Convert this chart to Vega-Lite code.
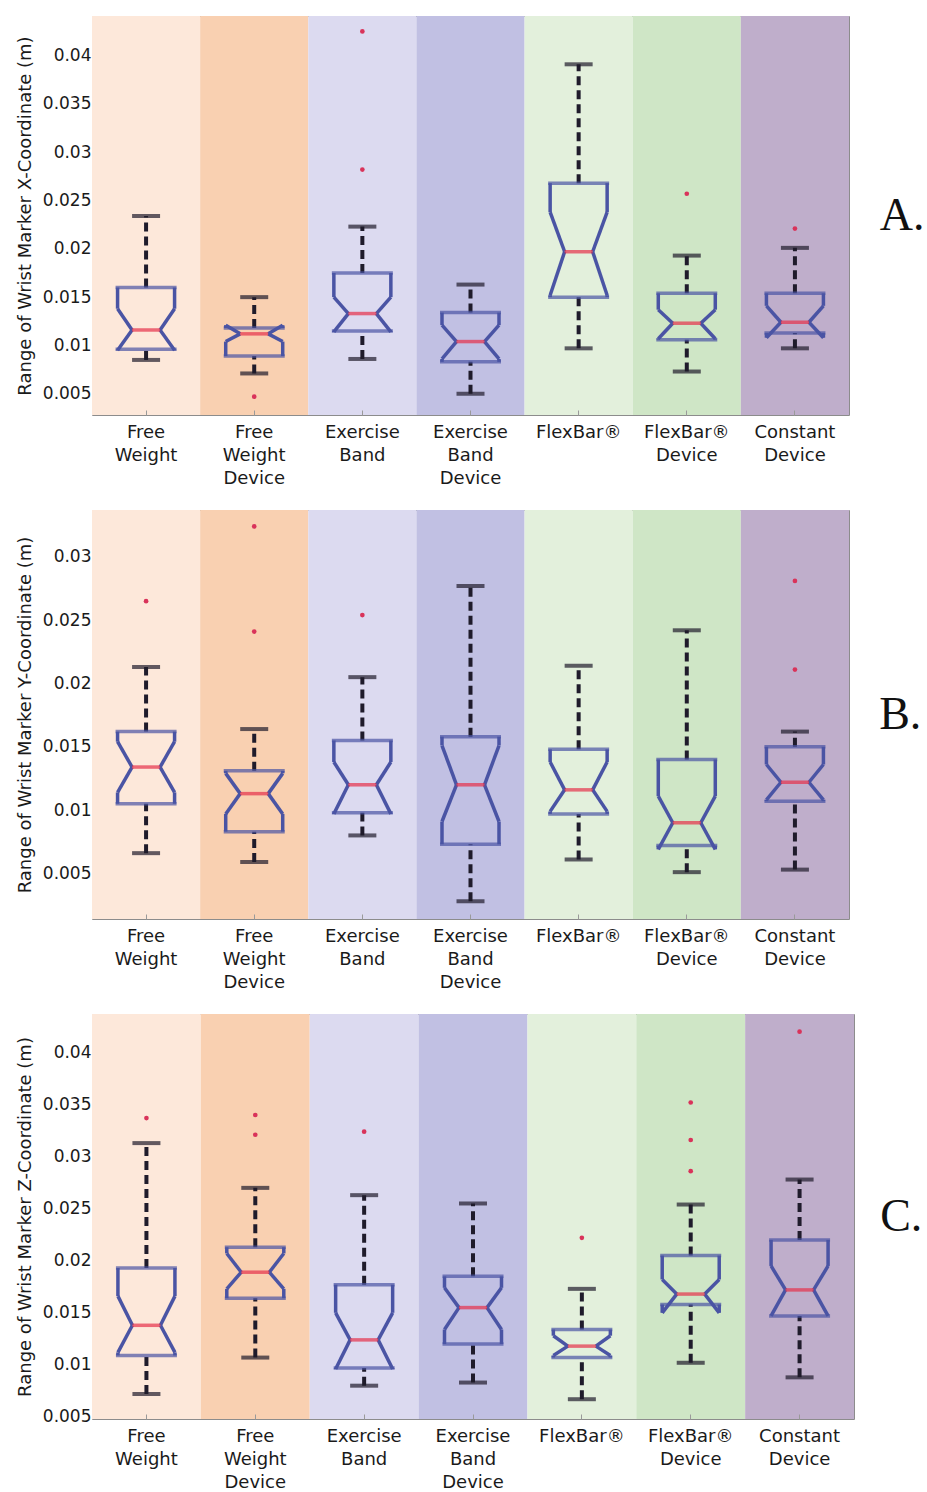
{
  "$schema": "https://vega.github.io/schema/vega-lite/v6.json",
  "padding": {"left": 15, "top": 15, "right": 0, "bottom": 0},
  "background": "white",
  "spacing": 21,
  "config": {
    "font": "DejaVu Sans",
    "view": {"stroke": "#8c8c8c", "strokeWidth": 1},
    "axisX": {"labelExpr": "split(datum.label, ' ')", "labelFontSize": 18, "labelLineHeight": 23, "labelAngle": 0, "labelPadding": 13, "domain": false, "ticks": true, "tickSize": -5, "tickColor": "#9a9a9a", "labelColor": "#1a1a1a", "labelBaseline": "top"},
    "axisY": {"labelFontSize": 17, "titleFontSize": 18, "titleFontWeight": "normal", "domain": false, "grid": false, "tickSize": -5, "tickColor": "#9a9a9a", "labelPadding": 6, "titlePadding": 8, "labelColor": "#1a1a1a", "titleColor": "#1a1a1a"}
  },
  "datasets": {
    "boxesA": [
      {"cat": "Free Weight", "wlo": 0.0085, "q1": 0.0096, "nlo": 0.0095, "med": 0.0116, "nhi": 0.0138, "q3": 0.0160, "whi": 0.0234},
      {"cat": "Free Weight Device", "wlo": 0.0071, "q1": 0.0089, "nlo": 0.0104, "med": 0.0112, "nhi": 0.0121, "q3": 0.0118, "whi": 0.0150},
      {"cat": "Exercise Band", "wlo": 0.0086, "q1": 0.0115, "nlo": 0.0114, "med": 0.0133, "nhi": 0.0150, "q3": 0.0175, "whi": 0.0223},
      {"cat": "Exercise Band Device", "wlo": 0.0050, "q1": 0.0083, "nlo": 0.0086, "med": 0.0104, "nhi": 0.0121, "q3": 0.0134, "whi": 0.0163},
      {"cat": "FlexBar®", "wlo": 0.0097, "q1": 0.0150, "nlo": 0.0152, "med": 0.0197, "nhi": 0.0238, "q3": 0.0268, "whi": 0.0391},
      {"cat": "FlexBar® Device", "wlo": 0.0073, "q1": 0.0106, "nlo": 0.0107, "med": 0.0123, "nhi": 0.0137, "q3": 0.0154, "whi": 0.0193},
      {"cat": "Constant Device", "wlo": 0.0097, "q1": 0.0113, "nlo": 0.0108, "med": 0.0124, "nhi": 0.0141, "q3": 0.0154, "whi": 0.0201}
    ],
    "outA": [
      {"cat": "Free Weight Device", "v": 0.0047},
      {"cat": "Exercise Band", "v": 0.0425},
      {"cat": "Exercise Band", "v": 0.0282},
      {"cat": "FlexBar® Device", "v": 0.0257},
      {"cat": "Constant Device", "v": 0.0221}
    ],
    "boxesB": [
      {"cat": "Free Weight", "wlo": 0.0066, "q1": 0.0105, "nlo": 0.0114, "med": 0.0134, "nhi": 0.0154, "q3": 0.0162, "whi": 0.0213},
      {"cat": "Free Weight Device", "wlo": 0.0059, "q1": 0.0083, "nlo": 0.0097, "med": 0.0113, "nhi": 0.0129, "q3": 0.0131, "whi": 0.0164},
      {"cat": "Exercise Band", "wlo": 0.0080, "q1": 0.0098, "nlo": 0.0097, "med": 0.0120, "nhi": 0.0138, "q3": 0.0155, "whi": 0.0205},
      {"cat": "Exercise Band Device", "wlo": 0.0028, "q1": 0.0073, "nlo": 0.0091, "med": 0.0120, "nhi": 0.0151, "q3": 0.0158, "whi": 0.0277},
      {"cat": "FlexBar®", "wlo": 0.0061, "q1": 0.0097, "nlo": 0.0099, "med": 0.0116, "nhi": 0.0138, "q3": 0.0148, "whi": 0.0214},
      {"cat": "FlexBar® Device", "wlo": 0.0051, "q1": 0.0072, "nlo": 0.0069, "med": 0.0090, "nhi": 0.0111, "q3": 0.0140, "whi": 0.0242},
      {"cat": "Constant Device", "wlo": 0.0053, "q1": 0.0107, "nlo": 0.0108, "med": 0.0122, "nhi": 0.0136, "q3": 0.0150, "whi": 0.0162}
    ],
    "outB": [
      {"cat": "Free Weight", "v": 0.0265},
      {"cat": "Free Weight Device", "v": 0.0324},
      {"cat": "Free Weight Device", "v": 0.0241},
      {"cat": "Exercise Band", "v": 0.0254},
      {"cat": "Constant Device", "v": 0.0281},
      {"cat": "Constant Device", "v": 0.0211}
    ],
    "boxesC": [
      {"cat": "Free Weight", "wlo": 0.0072, "q1": 0.0109, "nlo": 0.0112, "med": 0.0138, "nhi": 0.0166, "q3": 0.0193, "whi": 0.0313},
      {"cat": "Free Weight Device", "wlo": 0.0107, "q1": 0.0164, "nlo": 0.0173, "med": 0.0189, "nhi": 0.0207, "q3": 0.0213, "whi": 0.0270},
      {"cat": "Exercise Band", "wlo": 0.0080, "q1": 0.0097, "nlo": 0.0096, "med": 0.0124, "nhi": 0.0150, "q3": 0.0177, "whi": 0.0263},
      {"cat": "Exercise Band Device", "wlo": 0.0083, "q1": 0.0120, "nlo": 0.0134, "med": 0.0155, "nhi": 0.0174, "q3": 0.0185, "whi": 0.0255},
      {"cat": "FlexBar®", "wlo": 0.0067, "q1": 0.0107, "nlo": 0.0109, "med": 0.0118, "nhi": 0.0128, "q3": 0.0134, "whi": 0.0173},
      {"cat": "FlexBar® Device", "wlo": 0.0102, "q1": 0.0158, "nlo": 0.0150, "med": 0.0168, "nhi": 0.0182, "q3": 0.0205, "whi": 0.0254},
      {"cat": "Constant Device", "wlo": 0.0088, "q1": 0.0147, "nlo": 0.0147, "med": 0.0172, "nhi": 0.0195, "q3": 0.0220, "whi": 0.0278}
    ],
    "outC": [
      {"cat": "Free Weight", "v": 0.0337},
      {"cat": "Free Weight Device", "v": 0.0340},
      {"cat": "Free Weight Device", "v": 0.0321},
      {"cat": "Exercise Band", "v": 0.0324},
      {"cat": "FlexBar®", "v": 0.0222},
      {"cat": "FlexBar® Device", "v": 0.0352},
      {"cat": "FlexBar® Device", "v": 0.0316},
      {"cat": "FlexBar® Device", "v": 0.0286},
      {"cat": "Constant Device", "v": 0.0420}
    ]
  },
  "vconcat": [
    {
      "width": 757, "height": 399,
      "title": {"text": "A.", "orient": "right", "angle": 0, "font": "Liberation Serif", "fontSize": 46, "fontWeight": "normal", "anchor": "middle", "offset": -14, "align": "left", "baseline": "middle", "color": "#111111"},
      "data": {"name": "boxesA"},
      "encoding": {"x": {"field": "cat", "type": "nominal", "title": null, "scale": {"domain": ["Free Weight", "Free Weight Device", "Exercise Band", "Exercise Band Device", "FlexBar®", "FlexBar® Device", "Constant Device"], "paddingInner": 0, "paddingOuter": 0}}},
      "layer": [
        {"mark": {"type": "rect"}, "encoding": {"color": {"field": "cat", "type": "nominal", "scale": {"domain": ["Free Weight", "Free Weight Device", "Exercise Band", "Exercise Band Device", "FlexBar®", "FlexBar® Device", "Constant Device"], "range": ["#fde8da", "#f9d0b1", "#dcdaf0", "#c1c0e3", "#e3f0dc", "#cfe6c6", "#bfaecb"]}, "legend": null}}},
        {"mark": {"type": "rule", "strokeDash": [9, 5], "strokeWidth": 4, "color": "#1f1b2b"}, "encoding": {"y": {"field": "wlo", "type": "quantitative", "scale": {"domain": [0.0028, 0.0441], "nice": false, "zero": false}, "title": "Range of Wrist Marker X-Coordinate (m)", "axis": {"values": [0.005, 0.01, 0.015, 0.02, 0.025, 0.03, 0.035, 0.04], "format": ".3~f"}}, "y2": {"field": "q1"}}},
        {"mark": {"type": "rule", "strokeDash": [9, 5], "strokeWidth": 4, "color": "#1f1b2b"}, "encoding": {"y": {"field": "q3", "type": "quantitative", "title": "Range of Wrist Marker X-Coordinate (m)"}, "y2": {"field": "whi"}}},
        {"mark": {"type": "tick", "size": 28, "thickness": 4, "color": "#1f1b2b"}, "encoding": {"y": {"field": "wlo", "type": "quantitative", "title": "Range of Wrist Marker X-Coordinate (m)"}}},
        {"mark": {"type": "tick", "size": 28, "thickness": 4, "color": "#1f1b2b"}, "encoding": {"y": {"field": "whi", "type": "quantitative", "title": "Range of Wrist Marker X-Coordinate (m)"}}},
        {"mark": {"type": "tick", "size": 61, "thickness": 3.5, "color": "#4a54a4"}, "encoding": {"y": {"field": "q1", "type": "quantitative", "title": "Range of Wrist Marker X-Coordinate (m)"}}},
        {"mark": {"type": "tick", "size": 61, "thickness": 3.5, "color": "#4a54a4"}, "encoding": {"y": {"field": "q3", "type": "quantitative", "title": "Range of Wrist Marker X-Coordinate (m)"}}},
        {"mark": {"type": "rule", "strokeWidth": 3.5, "color": "#4a54a4", "xOffset": -28.5}, "encoding": {"y": {"field": "q1", "type": "quantitative", "title": "Range of Wrist Marker X-Coordinate (m)"}, "y2": {"field": "nlo"}}},
        {"mark": {"type": "rule", "strokeWidth": 3.5, "color": "#4a54a4", "xOffset": 28.5}, "encoding": {"y": {"field": "q1", "type": "quantitative", "title": "Range of Wrist Marker X-Coordinate (m)"}, "y2": {"field": "nlo"}}},
        {"mark": {"type": "rule", "strokeWidth": 3.5, "color": "#4a54a4", "xOffset": -28.5}, "encoding": {"y": {"field": "nhi", "type": "quantitative", "title": "Range of Wrist Marker X-Coordinate (m)"}, "y2": {"field": "q3"}}},
        {"mark": {"type": "rule", "strokeWidth": 3.5, "color": "#4a54a4", "xOffset": 28.5}, "encoding": {"y": {"field": "nhi", "type": "quantitative", "title": "Range of Wrist Marker X-Coordinate (m)"}, "y2": {"field": "q3"}}},
        {"mark": {"type": "rule", "strokeWidth": 3.5, "color": "#4a54a4", "xOffset": -28.5, "x2Offset": -14}, "encoding": {"x": {"field": "cat", "type": "nominal", "bandPosition": 0.5}, "x2": {"field": "cat", "bandPosition": 0.5}, "y": {"field": "nlo", "type": "quantitative", "title": "Range of Wrist Marker X-Coordinate (m)"}, "y2": {"field": "med"}}},
        {"mark": {"type": "rule", "strokeWidth": 3.5, "color": "#4a54a4", "xOffset": 28.5, "x2Offset": 14}, "encoding": {"x": {"field": "cat", "type": "nominal", "bandPosition": 0.5}, "x2": {"field": "cat", "bandPosition": 0.5}, "y": {"field": "nlo", "type": "quantitative", "title": "Range of Wrist Marker X-Coordinate (m)"}, "y2": {"field": "med"}}},
        {"mark": {"type": "rule", "strokeWidth": 3.5, "color": "#4a54a4", "xOffset": -28.5, "x2Offset": -14}, "encoding": {"x": {"field": "cat", "type": "nominal", "bandPosition": 0.5}, "x2": {"field": "cat", "bandPosition": 0.5}, "y": {"field": "nhi", "type": "quantitative", "title": "Range of Wrist Marker X-Coordinate (m)"}, "y2": {"field": "med"}}},
        {"mark": {"type": "rule", "strokeWidth": 3.5, "color": "#4a54a4", "xOffset": 28.5, "x2Offset": 14}, "encoding": {"x": {"field": "cat", "type": "nominal", "bandPosition": 0.5}, "x2": {"field": "cat", "bandPosition": 0.5}, "y": {"field": "nhi", "type": "quantitative", "title": "Range of Wrist Marker X-Coordinate (m)"}, "y2": {"field": "med"}}},
        {"mark": {"type": "tick", "size": 28, "thickness": 3.5, "color": "#e5304a"}, "encoding": {"y": {"field": "med", "type": "quantitative", "title": "Range of Wrist Marker X-Coordinate (m)"}}},
        {"data": {"name": "outA"}, "mark": {"type": "point", "filled": true, "size": 22, "color": "#d9335a", "opacity": 1}, "encoding": {"y": {"field": "v", "type": "quantitative", "title": "Range of Wrist Marker X-Coordinate (m)"}}}
      ]
    },
    {
      "width": 757, "height": 409,
      "title": {"text": "B.", "orient": "right", "angle": 0, "font": "Liberation Serif", "fontSize": 46, "fontWeight": "normal", "anchor": "middle", "offset": -12, "align": "left", "baseline": "middle", "color": "#111111"},
      "data": {"name": "boxesB"},
      "encoding": {"x": {"field": "cat", "type": "nominal", "title": null, "scale": {"domain": ["Free Weight", "Free Weight Device", "Exercise Band", "Exercise Band Device", "FlexBar®", "FlexBar® Device", "Constant Device"], "paddingInner": 0, "paddingOuter": 0}}},
      "layer": [
        {"mark": {"type": "rect"}, "encoding": {"color": {"field": "cat", "type": "nominal", "scale": {"domain": ["Free Weight", "Free Weight Device", "Exercise Band", "Exercise Band Device", "FlexBar®", "FlexBar® Device", "Constant Device"], "range": ["#fde8da", "#f9d0b1", "#dcdaf0", "#c1c0e3", "#e3f0dc", "#cfe6c6", "#bfaecb"]}, "legend": null}}},
        {"mark": {"type": "rule", "strokeDash": [9, 5], "strokeWidth": 4, "color": "#1f1b2b"}, "encoding": {"y": {"field": "wlo", "type": "quantitative", "scale": {"domain": [0.0014, 0.0337], "nice": false, "zero": false}, "title": "Range of Wrist Marker Y-Coordinate (m)", "axis": {"values": [0.005, 0.01, 0.015, 0.02, 0.025, 0.03], "format": ".3~f"}}, "y2": {"field": "q1"}}},
        {"mark": {"type": "rule", "strokeDash": [9, 5], "strokeWidth": 4, "color": "#1f1b2b"}, "encoding": {"y": {"field": "q3", "type": "quantitative", "title": "Range of Wrist Marker Y-Coordinate (m)"}, "y2": {"field": "whi"}}},
        {"mark": {"type": "tick", "size": 28, "thickness": 4, "color": "#1f1b2b"}, "encoding": {"y": {"field": "wlo", "type": "quantitative", "title": "Range of Wrist Marker Y-Coordinate (m)"}}},
        {"mark": {"type": "tick", "size": 28, "thickness": 4, "color": "#1f1b2b"}, "encoding": {"y": {"field": "whi", "type": "quantitative", "title": "Range of Wrist Marker Y-Coordinate (m)"}}},
        {"mark": {"type": "tick", "size": 61, "thickness": 3.5, "color": "#4a54a4"}, "encoding": {"y": {"field": "q1", "type": "quantitative", "title": "Range of Wrist Marker Y-Coordinate (m)"}}},
        {"mark": {"type": "tick", "size": 61, "thickness": 3.5, "color": "#4a54a4"}, "encoding": {"y": {"field": "q3", "type": "quantitative", "title": "Range of Wrist Marker Y-Coordinate (m)"}}},
        {"mark": {"type": "rule", "strokeWidth": 3.5, "color": "#4a54a4", "xOffset": -28.5}, "encoding": {"y": {"field": "q1", "type": "quantitative", "title": "Range of Wrist Marker Y-Coordinate (m)"}, "y2": {"field": "nlo"}}},
        {"mark": {"type": "rule", "strokeWidth": 3.5, "color": "#4a54a4", "xOffset": 28.5}, "encoding": {"y": {"field": "q1", "type": "quantitative", "title": "Range of Wrist Marker Y-Coordinate (m)"}, "y2": {"field": "nlo"}}},
        {"mark": {"type": "rule", "strokeWidth": 3.5, "color": "#4a54a4", "xOffset": -28.5}, "encoding": {"y": {"field": "nhi", "type": "quantitative", "title": "Range of Wrist Marker Y-Coordinate (m)"}, "y2": {"field": "q3"}}},
        {"mark": {"type": "rule", "strokeWidth": 3.5, "color": "#4a54a4", "xOffset": 28.5}, "encoding": {"y": {"field": "nhi", "type": "quantitative", "title": "Range of Wrist Marker Y-Coordinate (m)"}, "y2": {"field": "q3"}}},
        {"mark": {"type": "rule", "strokeWidth": 3.5, "color": "#4a54a4", "xOffset": -28.5, "x2Offset": -14}, "encoding": {"x": {"field": "cat", "type": "nominal", "bandPosition": 0.5}, "x2": {"field": "cat", "bandPosition": 0.5}, "y": {"field": "nlo", "type": "quantitative", "title": "Range of Wrist Marker Y-Coordinate (m)"}, "y2": {"field": "med"}}},
        {"mark": {"type": "rule", "strokeWidth": 3.5, "color": "#4a54a4", "xOffset": 28.5, "x2Offset": 14}, "encoding": {"x": {"field": "cat", "type": "nominal", "bandPosition": 0.5}, "x2": {"field": "cat", "bandPosition": 0.5}, "y": {"field": "nlo", "type": "quantitative", "title": "Range of Wrist Marker Y-Coordinate (m)"}, "y2": {"field": "med"}}},
        {"mark": {"type": "rule", "strokeWidth": 3.5, "color": "#4a54a4", "xOffset": -28.5, "x2Offset": -14}, "encoding": {"x": {"field": "cat", "type": "nominal", "bandPosition": 0.5}, "x2": {"field": "cat", "bandPosition": 0.5}, "y": {"field": "nhi", "type": "quantitative", "title": "Range of Wrist Marker Y-Coordinate (m)"}, "y2": {"field": "med"}}},
        {"mark": {"type": "rule", "strokeWidth": 3.5, "color": "#4a54a4", "xOffset": 28.5, "x2Offset": 14}, "encoding": {"x": {"field": "cat", "type": "nominal", "bandPosition": 0.5}, "x2": {"field": "cat", "bandPosition": 0.5}, "y": {"field": "nhi", "type": "quantitative", "title": "Range of Wrist Marker Y-Coordinate (m)"}, "y2": {"field": "med"}}},
        {"mark": {"type": "tick", "size": 28, "thickness": 3.5, "color": "#e5304a"}, "encoding": {"y": {"field": "med", "type": "quantitative", "title": "Range of Wrist Marker Y-Coordinate (m)"}}},
        {"data": {"name": "outB"}, "mark": {"type": "point", "filled": true, "size": 22, "color": "#d9335a", "opacity": 1}, "encoding": {"y": {"field": "v", "type": "quantitative", "title": "Range of Wrist Marker Y-Coordinate (m)"}}}
      ]
    },
    {
      "width": 762, "height": 405,
      "title": {"text": "C.", "orient": "right", "angle": 0, "font": "Liberation Serif", "fontSize": 46, "fontWeight": "normal", "anchor": "middle", "offset": -16, "align": "left", "baseline": "middle", "color": "#111111"},
      "data": {"name": "boxesC"},
      "encoding": {"x": {"field": "cat", "type": "nominal", "title": null, "scale": {"domain": ["Free Weight", "Free Weight Device", "Exercise Band", "Exercise Band Device", "FlexBar®", "FlexBar® Device", "Constant Device"], "paddingInner": 0, "paddingOuter": 0}}},
      "layer": [
        {"mark": {"type": "rect"}, "encoding": {"color": {"field": "cat", "type": "nominal", "scale": {"domain": ["Free Weight", "Free Weight Device", "Exercise Band", "Exercise Band Device", "FlexBar®", "FlexBar® Device", "Constant Device"], "range": ["#fde8da", "#f9d0b1", "#dcdaf0", "#c1c0e3", "#e3f0dc", "#cfe6c6", "#bfaecb"]}, "legend": null}}},
        {"mark": {"type": "rule", "strokeDash": [9, 5], "strokeWidth": 4, "color": "#1f1b2b"}, "encoding": {"y": {"field": "wlo", "type": "quantitative", "scale": {"domain": [0.0048, 0.0437], "nice": false, "zero": false}, "title": "Range of Wrist Marker Z-Coordinate (m)", "axis": {"values": [0.005, 0.01, 0.015, 0.02, 0.025, 0.03, 0.035, 0.04], "format": ".3~f"}}, "y2": {"field": "q1"}}},
        {"mark": {"type": "rule", "strokeDash": [9, 5], "strokeWidth": 4, "color": "#1f1b2b"}, "encoding": {"y": {"field": "q3", "type": "quantitative", "title": "Range of Wrist Marker Z-Coordinate (m)"}, "y2": {"field": "whi"}}},
        {"mark": {"type": "tick", "size": 28, "thickness": 4, "color": "#1f1b2b"}, "encoding": {"y": {"field": "wlo", "type": "quantitative", "title": "Range of Wrist Marker Z-Coordinate (m)"}}},
        {"mark": {"type": "tick", "size": 28, "thickness": 4, "color": "#1f1b2b"}, "encoding": {"y": {"field": "whi", "type": "quantitative", "title": "Range of Wrist Marker Z-Coordinate (m)"}}},
        {"mark": {"type": "tick", "size": 61, "thickness": 3.5, "color": "#4a54a4"}, "encoding": {"y": {"field": "q1", "type": "quantitative", "title": "Range of Wrist Marker Z-Coordinate (m)"}}},
        {"mark": {"type": "tick", "size": 61, "thickness": 3.5, "color": "#4a54a4"}, "encoding": {"y": {"field": "q3", "type": "quantitative", "title": "Range of Wrist Marker Z-Coordinate (m)"}}},
        {"mark": {"type": "rule", "strokeWidth": 3.5, "color": "#4a54a4", "xOffset": -28.5}, "encoding": {"y": {"field": "q1", "type": "quantitative", "title": "Range of Wrist Marker Z-Coordinate (m)"}, "y2": {"field": "nlo"}}},
        {"mark": {"type": "rule", "strokeWidth": 3.5, "color": "#4a54a4", "xOffset": 28.5}, "encoding": {"y": {"field": "q1", "type": "quantitative", "title": "Range of Wrist Marker Z-Coordinate (m)"}, "y2": {"field": "nlo"}}},
        {"mark": {"type": "rule", "strokeWidth": 3.5, "color": "#4a54a4", "xOffset": -28.5}, "encoding": {"y": {"field": "nhi", "type": "quantitative", "title": "Range of Wrist Marker Z-Coordinate (m)"}, "y2": {"field": "q3"}}},
        {"mark": {"type": "rule", "strokeWidth": 3.5, "color": "#4a54a4", "xOffset": 28.5}, "encoding": {"y": {"field": "nhi", "type": "quantitative", "title": "Range of Wrist Marker Z-Coordinate (m)"}, "y2": {"field": "q3"}}},
        {"mark": {"type": "rule", "strokeWidth": 3.5, "color": "#4a54a4", "xOffset": -28.5, "x2Offset": -14}, "encoding": {"x": {"field": "cat", "type": "nominal", "bandPosition": 0.5}, "x2": {"field": "cat", "bandPosition": 0.5}, "y": {"field": "nlo", "type": "quantitative", "title": "Range of Wrist Marker Z-Coordinate (m)"}, "y2": {"field": "med"}}},
        {"mark": {"type": "rule", "strokeWidth": 3.5, "color": "#4a54a4", "xOffset": 28.5, "x2Offset": 14}, "encoding": {"x": {"field": "cat", "type": "nominal", "bandPosition": 0.5}, "x2": {"field": "cat", "bandPosition": 0.5}, "y": {"field": "nlo", "type": "quantitative", "title": "Range of Wrist Marker Z-Coordinate (m)"}, "y2": {"field": "med"}}},
        {"mark": {"type": "rule", "strokeWidth": 3.5, "color": "#4a54a4", "xOffset": -28.5, "x2Offset": -14}, "encoding": {"x": {"field": "cat", "type": "nominal", "bandPosition": 0.5}, "x2": {"field": "cat", "bandPosition": 0.5}, "y": {"field": "nhi", "type": "quantitative", "title": "Range of Wrist Marker Z-Coordinate (m)"}, "y2": {"field": "med"}}},
        {"mark": {"type": "rule", "strokeWidth": 3.5, "color": "#4a54a4", "xOffset": 28.5, "x2Offset": 14}, "encoding": {"x": {"field": "cat", "type": "nominal", "bandPosition": 0.5}, "x2": {"field": "cat", "bandPosition": 0.5}, "y": {"field": "nhi", "type": "quantitative", "title": "Range of Wrist Marker Z-Coordinate (m)"}, "y2": {"field": "med"}}},
        {"mark": {"type": "tick", "size": 28, "thickness": 3.5, "color": "#e5304a"}, "encoding": {"y": {"field": "med", "type": "quantitative", "title": "Range of Wrist Marker Z-Coordinate (m)"}}},
        {"data": {"name": "outC"}, "mark": {"type": "point", "filled": true, "size": 22, "color": "#d9335a", "opacity": 1}, "encoding": {"y": {"field": "v", "type": "quantitative", "title": "Range of Wrist Marker Z-Coordinate (m)"}}}
      ]
    }
  ]
}
